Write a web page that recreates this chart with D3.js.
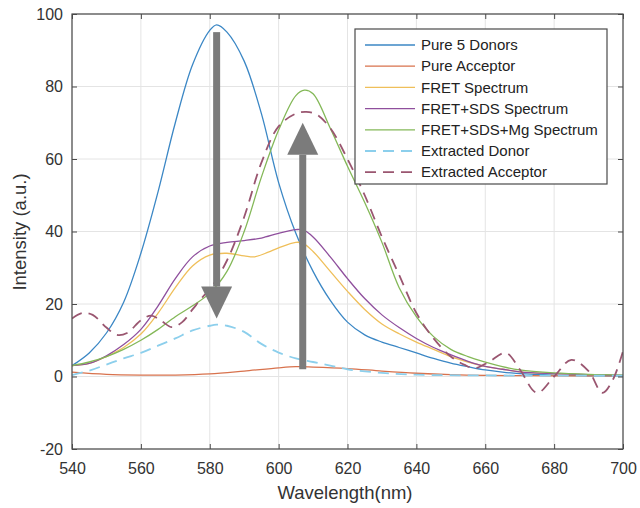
<!DOCTYPE html>
<html>
<head>
<meta charset="utf-8">
<script src="https://cdn.jsdelivr.net/npm/d3@7"></script>
<style>
  html, body { margin: 0; padding: 0; background: #fff; }
  svg { display: block; font-family: "Liberation Sans", Arial, Helvetica, sans-serif; }
</style>
</head>
<body>
<svg id="chart" width="640" height="508"></svg>
<script>
// ---------------- data ----------------
const xTicks = [540, 560, 580, 600, 620, 640, 660, 680, 700];
const yTicks = [-20, 0, 20, 40, 60, 80, 100];
const seriesNames = ["Pure 5 Donors", "Pure Acceptor", "FRET Spectrum", "FRET+SDS Spectrum",
                     "FRET+SDS+Mg Spectrum", "Extracted Donor", "Extracted Acceptor"];

const donorsX = [540,545,550,555,560,565,570,575,580,582,585,590,595,600,605,610,615,620,625,630,635,640,645,650,655,660,665,670,680,690,700];
const donorsY = [3,6.5,12,20.5,34,51,70,86,95.5,97,95,87,72.5,53.5,39.5,29,21,15,11.5,9.5,8,6.5,5,3.7,2.7,1.8,1.2,0.8,0.4,0.2,0.1];

const acceptorX = [540,550,560,570,580,590,600,605,610,620,630,640,650,660,680,700];
const acceptorY = [1.2,0.6,0.4,0.4,0.7,1.5,2.4,2.7,2.6,2.2,1.5,0.9,0.5,0.3,0.2,0.2];

const fretX = [540,545,550,555,560,565,570,575,580,585,590,593,597,600,605,607,610,615,620,625,630,635,640,645,650,655,660,665,670,680,690,700];
const fretY = [3,3.6,5.5,8,11.7,17.5,24.5,30.5,33.5,34,33.3,33,34.3,35.5,37,36.8,34.5,29,23.5,18.5,14.5,11.8,9.5,7.5,5.5,4,2.8,2,1.3,0.8,0.5,0.3];

const fretSdsX = [540,545,550,555,560,565,570,575,580,585,590,595,600,605,607,610,615,620,625,630,635,640,645,650,655,660,665,670,680,690,700];
const fretSdsY = [3,3.6,5.7,8.8,13,19.5,27,33,36,37,37.5,38.2,39.5,40.5,40.5,38.5,33,27,21.5,17,13.5,10.5,8,6,4.2,2.8,2,1.3,0.8,0.5,0.3];

const fretSdsMgX = [540,545,550,555,560,565,570,575,580,585,590,595,600,605,607.5,610,615,620,625,630,635,640,645,650,655,660,665,670,680,690,700];
const fretSdsMgY = [3,4,5.5,7.5,10,13,16.5,19.5,23,29,40,55,68,77.5,79,78,68.5,58,48,37,24.5,16.5,11,7.5,5.5,4,2.7,1.8,1,0.6,0.4];

const exDonorX = [540,545,550,555,560,565,570,575,580,582,585,590,595,600,605,610,615,620,630,640,660,700];
const exDonorY = [0.4,1.6,3.3,5,6.5,8.5,10.5,12.7,14,14.3,14,12.3,9,6.6,5,4,3,2,1,0.5,0.3,0.2];

const exAcceptorX = [540,543,546,550,553,556,560,563,566,569,572,575,578,580,585,590,595,600,605,608,611,615,620,625,630,635,640,645,650,654,657,661,666,670,675,680,685,690,694,697,700];
const exAcceptorY = [16,17.5,17,13.5,11.5,12,15.5,16.8,15.3,13.6,15,18.5,22,24,32,44,59,69,72.5,73,72.3,68.5,60,50,38.5,28,17.5,10.5,5.5,3.2,2.3,4,6.5,2,-4.5,0,4.6,1.5,-4.5,-1,7];

// annotation arrows (wavelength, start value, end value)
const arrowX = [582, 607];
const arrowFrom = [95, 2];
const arrowTo = [16, 70];

// ---------------- styles ----------------
const seriesData = [
  [donorsX, donorsY], [acceptorX, acceptorY], [fretX, fretY], [fretSdsX, fretSdsY],
  [fretSdsMgX, fretSdsMgY], [exDonorX, exDonorY], [exAcceptorX, exAcceptorY]
];
const styles = [
  {color: "#3b87c5", width: 1.3, dash: null},
  {color: "#d8724d", width: 1.3, dash: null},
  {color: "#efbf5a", width: 1.3, dash: null},
  {color: "#8f4f9d", width: 1.3, dash: null},
  {color: "#84b858", width: 1.3, dash: null},
  {color: "#8ccfec", width: 1.8, dash: "11,7"},
  {color: "#9a5670", width: 1.8, dash: "11,7"}
];

// ---------------- layout ----------------
const X0 = 72, X1 = 623, Y0 = 14, Y1 = 449;
const svg = d3.select("#chart");
const x = d3.scaleLinear().domain([540, 700]).range([X0, X1]);
const y = d3.scaleLinear().domain([-20, 100]).range([Y1, Y0]);
const fmt = d => String(d);

svg.append("rect").attr("x", 0).attr("y", 0).attr("width", 640).attr("height", 508).attr("fill", "#fff");

// grid
const grid = svg.append("g");
grid.selectAll("line.gx").data(xTicks).join("line")
  .attr("x1", d => x(d)).attr("x2", d => x(d)).attr("y1", Y0).attr("y2", Y1)
  .attr("stroke", "#e4e4e4").attr("stroke-width", 1);
grid.selectAll("line.gy").data(yTicks).join("line")
  .attr("y1", d => y(d)).attr("y2", d => y(d)).attr("x1", X0).attr("x2", X1)
  .attr("stroke", "#e4e4e4").attr("stroke-width", 1);

// clip
svg.append("clipPath").attr("id", "clip").append("rect")
  .attr("x", X0).attr("y", Y0).attr("width", X1 - X0).attr("height", Y1 - Y0);

// lines
const line = d3.line().x(d => x(d[0])).y(d => y(d[1])).curve(d3.curveCatmullRom.alpha(0.5));
const plot = svg.append("g").attr("clip-path", "url(#clip)");
seriesData.forEach((s, i) => {
  const pts = s[0].map((w, j) => [w, s[1][j]]);
  const st = styles[i];
  plot.append("path").datum(pts)
    .attr("d", line).attr("fill", "none")
    .attr("stroke", st.color).attr("stroke-width", st.width)
    .attr("stroke-dasharray", st.dash)
    .attr("stroke-linejoin", "round");
});

// arrows
const arrowColor = "#7b7b7b";
const headLen = 32, headHalf = 15.5, shaftHalf = 3.5;
arrowX.forEach((w, i) => {
  const cx = x(w), ys = y(arrowFrom[i]), ye = y(arrowTo[i]);
  const dir = ye > ys ? 1 : -1;
  const yb = ye - dir * headLen;
  svg.append("rect")
    .attr("x", cx - shaftHalf).attr("width", shaftHalf * 2)
    .attr("y", Math.min(ys, yb)).attr("height", Math.abs(yb - ys))
    .attr("fill", arrowColor);
  svg.append("path")
    .attr("d", `M${cx - headHalf},${yb}L${cx + headHalf},${yb}L${cx},${ye}Z`)
    .attr("fill", arrowColor);
});

// axes
const axisColor = "#4a4a4a";
const fontSize = 16;
function styleAxis(g, showText) {
  g.select(".domain").remove();
  g.selectAll(".tick line").attr("stroke", axisColor);
  g.selectAll(".tick text").attr("fill", "#333").style("font-size", fontSize + "px")
    .style("display", showText ? null : "none");
}
svg.append("g").attr("transform", `translate(0,${Y1})`)
  .call(d3.axisBottom(x).tickValues(xTicks).tickSizeInner(-5).tickSizeOuter(0).tickPadding(14).tickFormat(fmt))
  .call(g => styleAxis(g, true))
  .attr("font-family", null);
svg.append("g").attr("transform", `translate(0,${Y0})`)
  .call(d3.axisTop(x).tickValues(xTicks).tickSizeInner(-5).tickSizeOuter(0))
  .call(g => styleAxis(g, false));
svg.append("g").attr("transform", `translate(${X0},0)`)
  .call(d3.axisLeft(y).tickValues(yTicks).tickSizeInner(-5).tickSizeOuter(0).tickPadding(9).tickFormat(fmt))
  .call(g => styleAxis(g, true))
  .attr("font-family", null);
svg.append("g").attr("transform", `translate(${X1},0)`)
  .call(d3.axisRight(y).tickValues(yTicks).tickSizeInner(-5).tickSizeOuter(0))
  .call(g => styleAxis(g, false));

// box
svg.append("rect").attr("x", X0).attr("y", Y0).attr("width", X1 - X0).attr("height", Y1 - Y0)
  .attr("fill", "none").attr("stroke", axisColor).attr("stroke-width", 1.2);

// axis labels
svg.append("text").attr("x", 345).attr("y", 499).attr("text-anchor", "middle")
  .attr("fill", "#333").style("font-size", "18.5px").text("Wavelength(nm)");
svg.append("text").attr("transform", "translate(26,232) rotate(-90)").attr("text-anchor", "middle")
  .attr("fill", "#333").style("font-size", "18.5px").text("Intensity (a.u.)");

// legend
const lg = svg.append("g");
lg.append("rect").attr("x", 355).attr("y", 29).attr("width", 252).attr("height", 155)
  .attr("fill", "#fff").attr("stroke", axisColor).attr("stroke-width", 1.2);
seriesNames.forEach((name, i) => {
  const yy = 45 + i * 21.2;
  const st = styles[i];
  lg.append("line").attr("x1", 365).attr("x2", 415).attr("y1", yy).attr("y2", yy)
    .attr("stroke", st.color).attr("stroke-width", st.width).attr("stroke-dasharray", st.dash);
  lg.append("text").attr("x", 421).attr("y", yy).attr("dy", "0.35em")
    .attr("fill", "#222").style("font-size", "15px").text(name);
});
</script>
</body>
</html>
